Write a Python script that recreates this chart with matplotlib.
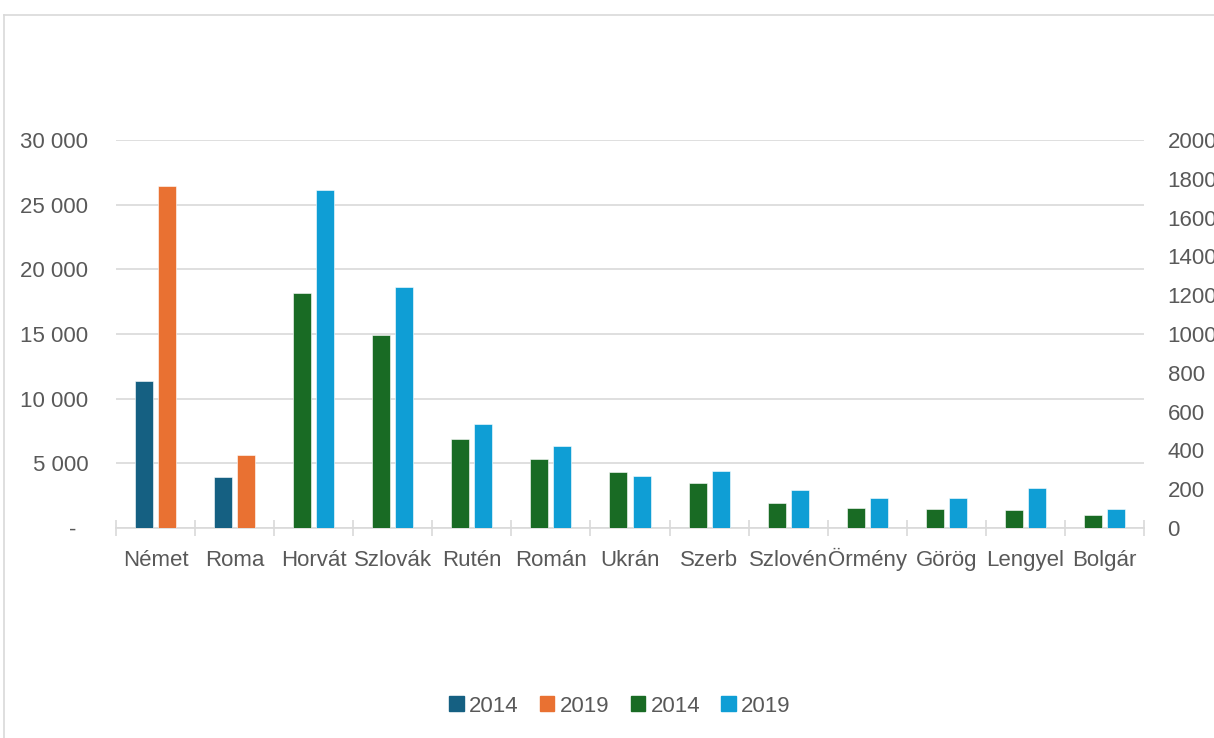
import matplotlib.pyplot as plt
from matplotlib.lines import Line2D
from matplotlib.patches import Patch
from matplotlib.ticker import FixedLocator, FuncFormatter

plt.rcParams['font.family'] = ['Liberation Sans', 'DejaVu Sans']

# data
categories = ['Német', 'Roma', 'Horvát', 'Szlovák', 'Rutén', 'Román', 'Ukrán',
              'Szerb', 'Szlovén', 'Örmény', 'Görög', 'Lengyel', 'Bolgár']
# left axis (first two categories)
prim_2014 = [11340, 3970]
prim_2019 = [26470, 5640]
# right axis (the rest)
sec_2014 = [1211, 993, 460, 357, 290, 233, 129, 105, 98, 94, 69]
sec_2019 = [1742, 1244, 538, 424, 266, 292, 196, 155, 155, 208, 99]

c_prim14 = '#156082'
c_prim19 = '#E97132'
c_sec14 = '#196B24'
c_sec19 = '#0F9ED5'
grey_txt = '#595959'
grey_line = '#D9D9D9'
fs = 16

W, H = 1214, 738
fig = plt.figure(figsize=(W / 100, H / 100), dpi=100)

# chart-area frame (left and top edges visible)
fig.add_artist(Line2D([4 / W, 4 / W], [0, 1 - 15 / H], color=grey_line, lw=1.2,
                      transform=fig.transFigure))
fig.add_artist(Line2D([4 / W, 1], [1 - 15 / H, 1 - 15 / H], color=grey_line, lw=1.2,
                      transform=fig.transFigure))

left, right, bottom, top = 116 / W, 1144 / W, 1 - 528 / H, 1 - 140 / H
ax = fig.add_axes([left, bottom, right - left, top - bottom])
ax2 = ax.twinx()

bw = 0.228
off = 0.146
x_prim = list(range(len(prim_2014)))
x_sec = list(range(len(prim_2014), len(categories)))

ax.bar([x - off for x in x_prim], prim_2014, width=bw, color=c_prim14,
       edgecolor='white', linewidth=0.4, zorder=3)
ax.bar([x + off for x in x_prim], prim_2019, width=bw, color=c_prim19,
       edgecolor='white', linewidth=0.4, zorder=3)
ax2.bar([x - off for x in x_sec], sec_2014, width=bw, color=c_sec14,
        edgecolor='white', linewidth=0.4, zorder=3)
ax2.bar([x + off for x in x_sec], sec_2019, width=bw, color=c_sec19,
        edgecolor='white', linewidth=0.4, zorder=3)

ax.set_xlim(-0.5, len(categories) - 0.5)
ax.set_ylim(0, 30000)
ax2.set_ylim(0, 2000)

# left axis
ax.set_yticks(range(0, 30001, 5000))
ax.yaxis.set_major_formatter(FuncFormatter(
    lambda v, p: '-  ' if v == 0 else f'{v:,.0f}'.replace(',', ' ')))
ax.grid(axis='y', color=grey_line, lw=1.2, zorder=0)
ax.set_axisbelow(True)
ax.tick_params(axis='y', length=0, pad=20, labelsize=fs, labelcolor=grey_txt)

# right axis
ax2.set_yticks(range(0, 2001, 200))
ax2.tick_params(axis='y', length=0, pad=17, labelsize=fs, labelcolor=grey_txt)

# category axis, labels aligned on their baseline
ax.set_xticks(range(len(categories)))
ax.set_xticklabels(categories, va='baseline')
ax.tick_params(axis='x', length=0, pad=27.5, labelsize=fs, labelcolor=grey_txt)
ax.xaxis.set_minor_locator(FixedLocator([i - 0.5 for i in range(len(categories) + 1)]))
ax.tick_params(axis='x', which='minor', direction='inout', length=11,
               color=grey_line, width=1.2)

for a in (ax, ax2):
    for s in ('top', 'left', 'right'):
        a.spines[s].set_visible(False)
ax.spines['bottom'].set_color(grey_line)
ax.spines['bottom'].set_linewidth(1.2)
ax2.spines['bottom'].set_visible(False)

handles = [Patch(color=c_prim14), Patch(color=c_prim19),
           Patch(color=c_sec14), Patch(color=c_sec19)]
fig.legend(handles, ['2014', '2019', '2014', '2019'], loc='center',
           bbox_to_anchor=(620 / W, 1 - 706 / H), ncol=4, frameon=False,
           fontsize=fs, labelcolor=grey_txt, handlelength=0.65, handleheight=0.65,
           handletextpad=0.25, columnspacing=0.95)

fig.savefig('out.png', dpi=100)
